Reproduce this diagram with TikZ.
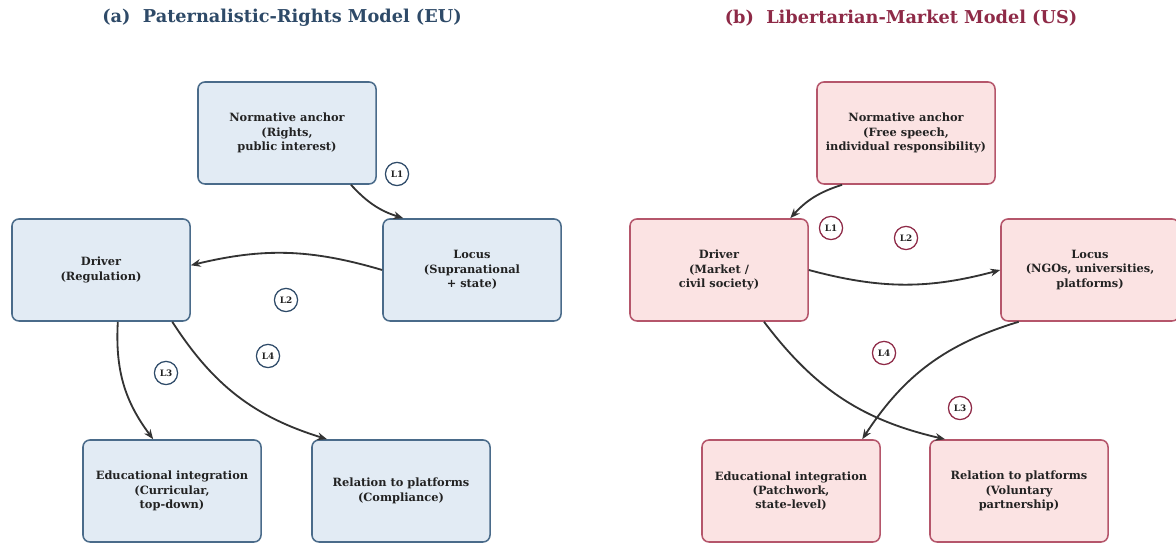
\documentclass[tikz,border=0pt]{standalone}
\usepackage{fontspec}
\setmainfont{DejaVu Serif}
\usetikzlibrary{positioning,arrows.meta}
\tikzset{>={Stealth[length=7pt,width=5.5pt]}}
\definecolor{eufill}{HTML}{E2EBF4}
\definecolor{euline}{HTML}{4A6B8A}
\definecolor{eutitle}{HTML}{2E4A68}
\definecolor{usfill}{HTML}{FBE3E3}
\definecolor{usline}{HTML}{B5566B}
\definecolor{ustitle}{HTML}{8E2A47}
\definecolor{arrowc}{HTML}{333333}
\definecolor{txt}{HTML}{222222}

\begin{document}
\begin{tikzpicture}[x=0.025cm,y=0.025cm,
  box/.style={draw,rounded corners=5pt,line width=1.1pt,minimum width=4.45cm,minimum height=2.55cm,
    align=center,font=\bfseries\fontsize{8.1}{10.2}\selectfont,text=txt},
  eubox/.style={box,fill=eufill,draw=euline},
  usbox/.style={box,fill=usfill,draw=usline},
  tag/.style={circle,draw,fill=white,line width=0.9pt,inner sep=0pt,minimum size=0.58cm,
    font=\bfseries\fontsize{6.3}{6.3}\selectfont,text=txt},
  link/.style={->,line width=1.3pt,draw=arrowc},
  title/.style={font=\bfseries\fontsize{12.6}{14}\selectfont}]
\useasboundingbox (0,0) rectangle (1176,544);
% (a) EU
\node[title,text=eutitle] (titleEU) at (282,526) {(a)\ \ Paternalistic-Rights Model (EU)};
\node[eubox] (anchorEU) at (287,411) {Normative anchor\\(Rights,\\public interest)};
\node[eubox] (locusEU) at (472,274) {Locus\\(Supranational\\+ state)};
\node[eubox] (driverEU) at (101,274) {Driver\\(Regulation)};
\node[eubox] (eduEU) at (172,53) {Educational integration\\(Curricular,\\top-down)};
\node[eubox] (relEU) at (401,53) {Relation to platforms\\(Compliance)};
\draw[link] (anchorEU.-39) to[bend right=15] (locusEU.143);
\draw[link] (locusEU.west) to[bend right=15] (driverEU.3);
\draw[link] (driverEU.-72) to[bend right=20] (eduEU.110);
\draw[link] (driverEU.-36) to[bend right=20] (relEU.145);
\node[tag,draw=eutitle] (tagEUa) at (397,370) {L1};
\node[tag,draw=eutitle] (tagEUb) at (286,244) {L2};
\node[tag,draw=eutitle] (tagEUc) at (166,171) {L3};
\node[tag,draw=eutitle] (tagEUd) at (268,188) {L4};
% (b) US
\node[title,text=ustitle] (titleUS) at (901,526) {(b)\ \ Libertarian-Market Model (US)};
\node[usbox] (anchorUS) at (906,411) {Normative anchor\\(Free speech,\\individual responsibility)};
\node[usbox] (driverUS) at (719,274) {Driver\\(Market /\\civil society)};
\node[usbox] (locusUS) at (1090,274) {Locus\\(NGOs, universities,\\platforms)};
\node[usbox] (eduUS) at (791,53) {Educational integration\\(Patchwork,\\state-level)};
\node[usbox] (relUS) at (1019,53) {Relation to platforms\\(Voluntary\\partnership)};
\draw[link] (anchorUS.-141) to[bend right=15] (driverUS.36);
\draw[link] (driverUS.east) to[bend right=15] (locusUS.west);
\draw[link] (driverUS.-49) to[bend right=20] (relUS.145);
\draw[link] (locusUS.-144) to[bend right=20] (eduUS.36);
\node[tag,draw=ustitle] (tagUSa) at (831,316) {L1};
\node[tag,draw=ustitle] (tagUSb) at (906,306) {L2};
\node[tag,draw=ustitle] (tagUSc) at (960,136) {L3};
\node[tag,draw=ustitle] (tagUSd) at (884,191) {L4};
\end{tikzpicture}
\end{document}
